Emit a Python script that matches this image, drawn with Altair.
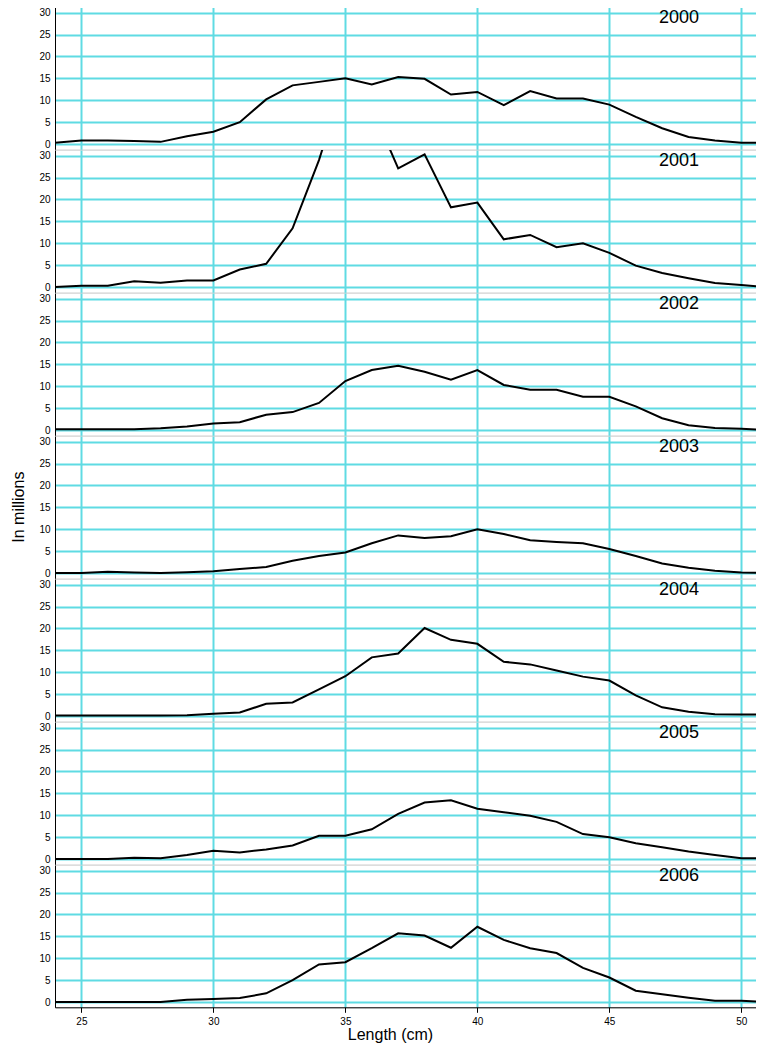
import altair as alt
import pandas as pd

lengths = list(range(24, 52))
years = ["2000", "2001", "2002", "2003", "2004", "2005", "2006"]

v2000 = [0.3, 0.8, 0.8, 0.7, 0.5, 1.8, 2.8, 5.0, 10.2, 13.4, 14.2, 15.0, 13.6, 15.3,
         14.9, 11.3, 11.9, 8.9, 12.1, 10.4, 10.4, 9.0, 6.2, 3.6, 1.6, 0.8, 0.3, 0.3]
v2001 = [0.0, 0.3, 0.3, 1.3, 1.0, 1.5, 1.5, 4.0, 5.3, 13.4, 29.0, 48.0, 41.0, 27.1,
         30.3, 18.2, 19.3, 10.9, 11.9, 9.1, 10.0, 7.8, 4.9, 3.2, 2.0, 0.9, 0.45, 0.0]
v2002 = [0.2, 0.2, 0.2, 0.2, 0.4, 0.8, 1.5, 1.8, 3.5, 4.1, 6.2, 11.2, 13.7, 14.7,
         13.3, 11.5, 13.7, 10.3, 9.2, 9.2, 7.6, 7.6, 5.4, 2.7, 1.1, 0.45, 0.3, 0.0]
v2003 = [0.0, 0.0, 0.3, 0.1, 0.0, 0.2, 0.4, 0.9, 1.4, 2.8, 3.9, 4.7, 6.8, 8.6,
         8.0, 8.4, 10.0, 8.9, 7.5, 7.1, 6.8, 5.5, 3.9, 2.2, 1.2, 0.5, 0.1, 0.0]
v2004 = [0.1, 0.1, 0.1, 0.1, 0.1, 0.2, 0.5, 0.8, 2.8, 3.1, 6.1, 9.1, 13.4, 14.3,
         20.1, 17.4, 16.5, 12.4, 11.8, 10.4, 9.0, 8.1, 4.7, 2.0, 1.0, 0.4, 0.35, 0.35]
v2005 = [0.0, 0.0, 0.0, 0.3, 0.2, 0.9, 1.9, 1.5, 2.2, 3.1, 5.3, 5.3, 6.8, 10.3,
         12.9, 13.4, 11.5, 10.7, 9.9, 8.5, 5.7, 5.0, 3.6, 2.7, 1.7, 0.9, 0.2, 0.2]
v2006 = [0.0, 0.0, 0.0, 0.0, 0.0, 0.5, 0.7, 0.9, 2.0, 5.0, 8.6, 9.1, 12.3, 15.7,
         15.2, 12.4, 17.2, 14.2, 12.3, 11.2, 7.8, 5.6, 2.6, 1.8, 1.0, 0.3, 0.3, 0.0]

x_ticks = [25, 30, 35, 40, 45, 50]
y_ticks = [0, 5, 10, 15, 20, 25, 30]

series = [v2000, v2001, v2002, v2003, v2004, v2005, v2006]

FONT = "Liberation Sans"
GRID = "#5fdbe3"
W = 708
H = 142.3
X_DOMAIN = [24, 50.82]
Y_DOMAIN = [-1.2, 31.3]

panels = []
n = len(years)
for i, (yr, vals) in enumerate(zip(years, series)):
    df = pd.DataFrame({"L": lengths, "v": vals, "year": [yr] * len(lengths)})
    last = i == n - 1
    if last:
        xaxis = alt.Axis(values=x_ticks, title="Length (cm)", grid=True,
                         gridColor=GRID, gridWidth=2, gridOpacity=1,
                         domainColor="black", tickColor="black", tickSize=5,
                         labelPadding=4, labelFontSize=10, titleFontSize=16,
                         titleFontWeight="normal", labelFont=FONT, titleFont=FONT,
                         titleX=335, titleY=27, titleBaseline="middle",
                         labelColor="black", titleColor="black")
    else:
        xaxis = alt.Axis(values=x_ticks, title=None, grid=True, labels=False,
                         ticks=False, domain=False,
                         gridColor=GRID, gridWidth=2, gridOpacity=1)
    base = alt.Chart(df)
    line = base.mark_line(color="black", strokeWidth=2, clip=True).encode(
        x=alt.X("L:Q", scale=alt.Scale(domain=X_DOMAIN, nice=False, zero=False),
                axis=xaxis),
        y=alt.Y("v:Q", scale=alt.Scale(domain=Y_DOMAIN, nice=False, zero=False),
                axis=alt.Axis(values=y_ticks, title=None, grid=True,
                              gridColor=GRID, gridWidth=2, gridOpacity=1,
                              domainColor="black", ticks=False, labelPadding=5,
                              labelFontSize=10, labelFont=FONT, labelColor="black")),
    )
    label = base.mark_text(fontSize=18, font=FONT, align="left", baseline="middle",
                           color="black").encode(
        x=alt.value(604),
        y=alt.value(11),
        text="year:N",
    ).transform_filter(alt.datum.L == 24)
    layers = [line, label]
    if i == 3:
        ytitle = base.mark_text(fontSize=16, font=FONT, align="center",
                                baseline="middle", angle=270, color="black").encode(
            x=alt.value(-36),
            y=alt.value(H / 2),
            text=alt.value("In millions"),
        ).transform_filter(alt.datum.L == 24)
        layers.append(ytitle)
    panels.append(alt.layer(*layers).properties(width=W, height=H))

chart = alt.vconcat(*panels, spacing=-1).properties(
    padding={"left": 2, "top": -2, "right": -8, "bottom": 0}
).configure_view(stroke="#333333", strokeWidth=1).configure(background="white")

chart.save("out.html", embed_options={"renderer": "svg", "actions": False})
